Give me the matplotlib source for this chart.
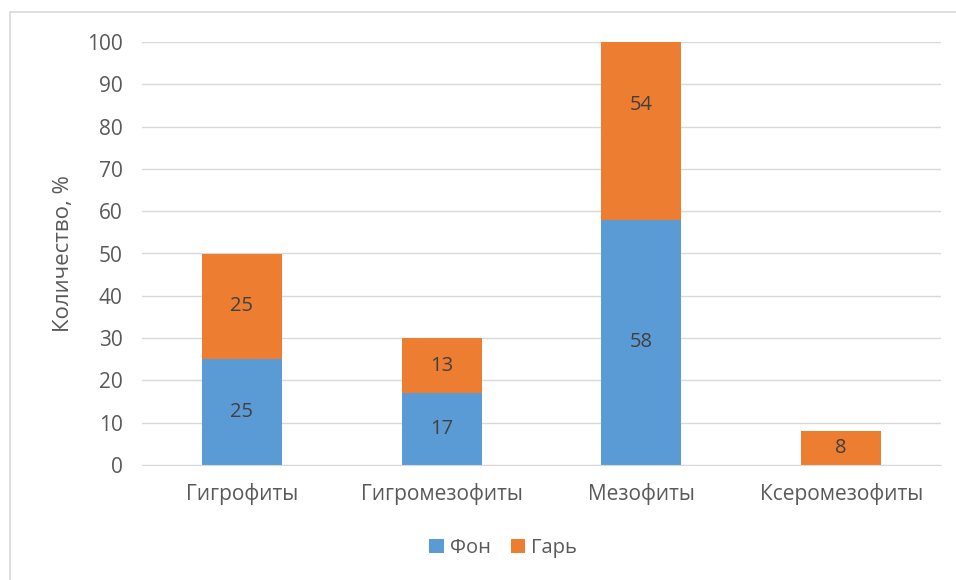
import matplotlib
matplotlib.use("Agg")
import matplotlib.pyplot as plt
from matplotlib.patches import Rectangle

categories = ["Гигрофиты", "Гигромезофиты", "Мезофиты", "Ксеромезофиты"]
fon = [25, 17, 58, 0]
gar = [25, 13, 54, 8]
series_names = ["Фон", "Гарь"]
yticks = [0, 10, 20, 30, 40, 50, 60, 70, 80, 90, 100]

plt.rcParams['font.family'] = ['Open Sans', 'DejaVu Sans']
fig = plt.figure(figsize=(9.56, 5.8), dpi=100)
ax = fig.add_axes([142/956, 1-465/580, (941-142)/956, (465-42)/580])

x = list(range(len(categories)))
c_blue = "#5B9BD5"
c_orange = "#ED7D31"
b1 = ax.bar(x, fon, width=0.4, color=c_blue, label=series_names[0], zorder=2)
b2 = ax.bar(x, gar, width=0.4, bottom=fon, color=c_orange, label=series_names[1], zorder=2)

for i in x:
    if fon[i] > 0:
        ax.text(i, fon[i]/2, str(fon[i]), ha='center', va='center', fontsize=14.5, color='#404040', zorder=3)
    if gar[i] > 0:
        ax.text(i, fon[i] + gar[i]/2, str(gar[i]), ha='center', va='center', fontsize=14.5, color='#404040', zorder=3)

ax.set_xlim(-0.5, len(categories) - 0.5)
ax.set_ylim(0, 100)
ax.set_yticks(yticks)
ax.set_xticks(x)
ax.set_xticklabels(categories)
ax.tick_params(axis='both', length=0, labelsize=15, labelcolor='#595959')
ax.tick_params(axis='y', pad=14)
ax.tick_params(axis='x', pad=13)
ax.grid(axis='y', color='#d9d9d9', lw=1, zorder=0)
for s in ['top', 'right', 'left']:
    ax.spines[s].set_visible(False)
ax.spines['bottom'].set_color('#d9d9d9')
ax.set_ylabel("Количество, %", fontsize=16, color='#595959', labelpad=9)

leg = fig.legend(handles=[b1, b2], labels=series_names, loc='center', bbox_to_anchor=(503/956, 1-548/580),
                 ncol=2, frameon=False, fontsize=14.5, handlelength=0.7, handleheight=0.7,
                 handletextpad=0.3, columnspacing=1.0)
for t in leg.get_texts():
    t.set_color('#595959')

fig.add_artist(Rectangle((10/956, -0.1), 2, 1 - 12/580 + 0.1, transform=fig.transFigure,
                         fill=False, edgecolor='#d9d9d9', lw=1.2))

fig.savefig("out.png", dpi=100)
